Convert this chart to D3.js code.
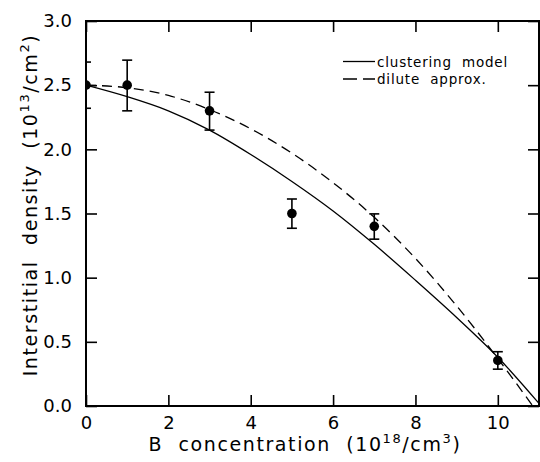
<!DOCTYPE html>
<html>
<head>
<meta charset="utf-8">
<script src="https://cdn.jsdelivr.net/npm/d3@7"></script>
<style>
  body { margin: 0; background: #fff; }
  text { font-family: "DejaVu Sans", sans-serif; fill: #000; white-space: pre; }
  .tick { font-size: 18px; }
  .label { font-size: 19px; letter-spacing: 1.6px; }
  .legendText { font-size: 13.5px; letter-spacing: 0.8px; }
</style>
</head>
<body>
<div class="chart"></div>
<script>
// measured points with error bars
const conc = [0, 1, 3, 5, 7, 10];
const density = [2.5, 2.5, 2.3, 1.5, 1.4, 0.355];
const errLow = [2.32, 2.3, 2.15, 1.385, 1.3, 0.287];
const errHigh = [2.68, 2.695, 2.445, 1.613, 1.497, 0.423];

// model curves
const clusterX = [0, 1, 2, 3, 4, 5, 6, 7, 8, 9, 10, 11];
const clusterY = [2.5, 2.41, 2.3, 2.15, 1.96, 1.75, 1.52, 1.26, 0.98, 0.69, 0.38, 0.02];
const diluteX = [0, 1, 2, 3, 4, 5, 6, 7, 8, 9, 10, 10.85];
const diluteY = [2.5, 2.48, 2.42, 2.31, 2.16, 1.97, 1.74, 1.47, 1.15, 0.78, 0.37, 0];

const xTicks = [0, 2, 4, 6, 8, 10];
const yTicks = [0, 0.5, 1, 1.5, 2, 2.5, 3];

const width = 540;
const height = 462;
const plotL = 86, plotR = 539, plotT = 21, plotB = 406;
const tickLen = 11;

let svg = d3.select('.chart')
  .append('svg')
    .attr('width', width)
    .attr('height', height);

let x = d3.scaleLinear().domain([0, 11]).range([plotL, plotR]);
let y = d3.scaleLinear().domain([0, 3]).range([plotB, plotT]);

svg.append('clipPath')
    .attr('id', 'plotClip')
  .append('rect')
    .attr('x', plotL)
    .attr('y', plotT)
    .attr('width', plotR - plotL)
    .attr('height', plotB - plotT);

// axes, ticks point inward on all four sides
let axisStyle = (g) => {
  g.select('.domain').remove();
  g.selectAll('.tick line').attr('stroke', '#000').attr('stroke-width', 1.6);
};

svg.append('g')
  .attr('transform', `translate(0,${plotB})`)
  .call(d3.axisBottom(x).tickValues(xTicks).tickSizeInner(-tickLen).tickSizeOuter(0).tickPadding(8).tickFormat(d3.format('d')))
  .call(axisStyle)
  .selectAll('text').attr('class', 'tick').attr('font-size', null).attr('font-family', null).attr('dy', '0.85em');

svg.append('g')
  .attr('transform', `translate(0,${plotT})`)
  .call(d3.axisTop(x).tickValues(xTicks).tickSizeInner(-tickLen).tickSizeOuter(0).tickFormat(''))
  .call(axisStyle);

svg.append('g')
  .attr('transform', `translate(${plotL},0)`)
  .call(d3.axisLeft(y).tickValues(yTicks).tickSizeInner(-tickLen).tickSizeOuter(0).tickPadding(14).tickFormat(d3.format('.1f')))
  .call(axisStyle)
  .selectAll('text').attr('class', 'tick').attr('font-size', null).attr('font-family', null);

svg.append('g')
  .attr('transform', `translate(${plotR},0)`)
  .call(d3.axisRight(y).tickValues(yTicks).tickSizeInner(-tickLen).tickSizeOuter(0).tickFormat(''))
  .call(axisStyle);

// frame
svg.append('rect')
  .attr('x', plotL)
  .attr('y', plotT)
  .attr('width', plotR - plotL)
  .attr('height', plotB - plotT)
  .attr('fill', 'none')
  .attr('stroke', '#000')
  .attr('stroke-width', 2);

let plot = svg.append('g').attr('clip-path', 'url(#plotClip)');

let line = d3.line()
  .x((d) => x(d[0]))
  .y((d) => y(d[1]))
  .curve(d3.curveMonotoneX);

plot.append('path')
  .datum(d3.zip(clusterX, clusterY))
  .attr('d', line)
  .attr('fill', 'none')
  .attr('stroke', '#000')
  .attr('stroke-width', 1.3);

plot.append('path')
  .datum(d3.zip(diluteX, diluteY))
  .attr('d', line)
  .attr('fill', 'none')
  .attr('stroke', '#000')
  .attr('stroke-width', 1.3)
  .attr('stroke-dasharray', '10,6');

// error bars
let points = plot.selectAll('.pt')
  .data(d3.range(conc.length))
  .enter()
  .append('g')
    .attr('class', 'pt');

points.append('line')
  .attr('x1', (i) => x(conc[i]))
  .attr('x2', (i) => x(conc[i]))
  .attr('y1', (i) => y(errLow[i]))
  .attr('y2', (i) => y(errHigh[i]))
  .attr('stroke', '#000')
  .attr('stroke-width', 1.6);

[errLow, errHigh].forEach((arr) => {
  points.append('line')
    .attr('x1', (i) => x(conc[i]) - 5)
    .attr('x2', (i) => x(conc[i]) + 5)
    .attr('y1', (i) => y(arr[i]))
    .attr('y2', (i) => y(arr[i]))
    .attr('stroke', '#000')
    .attr('stroke-width', 1.6);
});

points.append('circle')
  .attr('cx', (i) => x(conc[i]))
  .attr('cy', (i) => y(density[i]))
  .attr('r', 4.8)
  .attr('fill', '#000');

// legend
let legend = svg.append('g').attr('transform', 'translate(343,0)');
legend.append('line')
  .attr('x1', 0).attr('x2', 32).attr('y1', 61.5).attr('y2', 61.5)
  .attr('stroke', '#000').attr('stroke-width', 1.3);
legend.append('line')
  .attr('x1', 0).attr('x2', 32).attr('y1', 79).attr('y2', 79)
  .attr('stroke', '#000').attr('stroke-width', 1.3)
  .attr('stroke-dasharray', '14,6');
legend.append('text')
  .attr('class', 'legendText')
  .attr('x', 34).attr('y', 66.5)
  .text('clustering  model');
legend.append('text')
  .attr('class', 'legendText')
  .attr('x', 34).attr('y', 84)
  .text('dilute  approx.');

// axis titles
let xTitle = svg.append('text')
  .attr('class', 'label')
  .attr('x', 305)
  .attr('y', 451)
  .style('text-anchor', 'middle');
xTitle.append('tspan').text('B  concentration  (10');
xTitle.append('tspan').attr('dy', -8).attr('font-size', 13).text('18');
xTitle.append('tspan').attr('dy', 8).text('/cm');
xTitle.append('tspan').attr('dy', -8).attr('font-size', 13).text('3');
xTitle.append('tspan').attr('dy', 8).text(')');

let yTitle = svg.append('text')
  .attr('class', 'label')
  .attr('transform', 'translate(37,205) rotate(-90)')
  .style('text-anchor', 'middle');
yTitle.append('tspan').text('Interstitial  density  (10');
yTitle.append('tspan').attr('dy', -8).attr('font-size', 13).text('13');
yTitle.append('tspan').attr('dy', 8).text('/cm');
yTitle.append('tspan').attr('dy', -8).attr('font-size', 13).text('2');
yTitle.append('tspan').attr('dy', 8).text(')');
</script>
</body>
</html>
